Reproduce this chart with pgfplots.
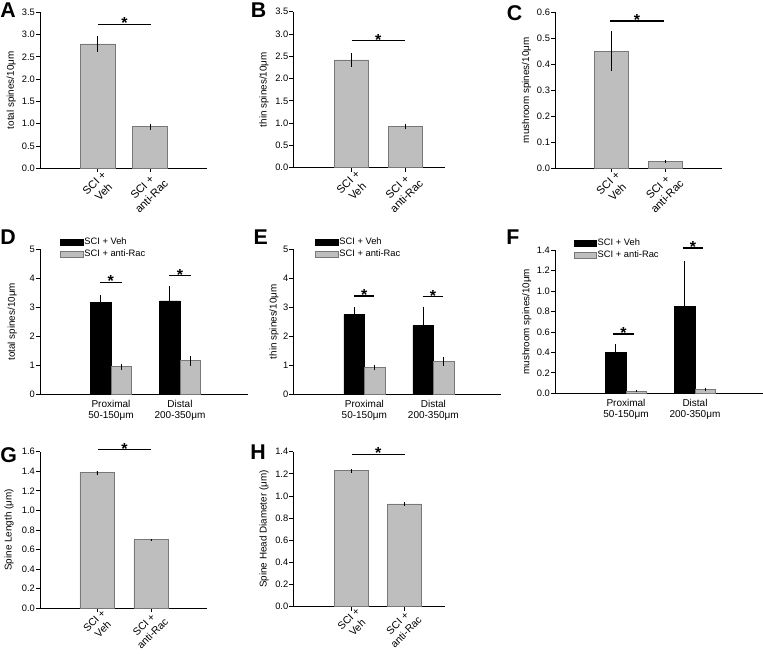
\documentclass[border=0pt]{standalone}
\usepackage{pgfplots}
\pgfplotsset{compat=1.18}
\usepackage{fontspec}
\setmainfont{Liberation Sans}
\definecolor{barg}{RGB}{190,190,190}
\definecolor{edgeg}{RGB}{120,120,120}
\tikzset{
  star/.style={font=\bfseries\fontsize{12}{12}\selectfont, inner sep=0pt, anchor=base, yshift=-3.4pt},
  sig/.style={line width=1pt, black},
  plab/.style={anchor=north west, inner sep=0pt, font=\bfseries\fontsize{16}{16}\selectfont},
}
\pgfplotsset{
  panel/.style={
    scale only axis, anchor=south west, clip=false,
    axis lines=left, axis line style={-, line width=0.6pt, black},
    tick align=outside, major tick length=3pt,
    every tick/.style={black, line width=0.6pt},
    xmin=0, ymin=0,
    /pgf/number format/assume math mode=true,
    tick label style={font=\fontsize{7}{8}\selectfont},
    yticklabel style={inner sep=0.6pt},
    ylabel style={font=\fontsize{7.4}{8.5}\selectfont, anchor=center, inner sep=0pt},
    y tick label style={/pgf/number format/.cd, fixed, fixed zerofill, precision=1},
  },
  twobar/.style={panel,
    xticklabels={{SCI +\\Veh},{SCI +\\anti-Rac}},
    xticklabel style={xshift=3pt, yshift=2pt, rotate=45, anchor=north east, align=center, font=\fontsize{8.3}{9.8}\selectfont, inner sep=0pt},
  },
  twobarlow/.style={panel,
    xticklabels={{SCI +\\Veh},{SCI +\\anti-Rac}},
    xticklabel style={xshift=3pt, yshift=3pt, rotate=45, anchor=north east, align=center, font=\fontsize{7.8}{9.2}\selectfont, inner sep=0pt},
  },
  groupbar/.style={panel, xmax=208, xtick={71,140},
    xticklabels={{Proximal\\50-150μm},{Distal\\200-350μm}},
    xticklabel style={align=center, font=\fontsize{7.5}{8.3}\selectfont, inner sep=1pt},
    x tick style={draw=none},
    legend style={draw=none, fill=none, font=\fontsize{7}{8}\selectfont, anchor=north west, inner sep=0pt, row sep=1.2pt, nodes={inner sep=0.6pt}},
    legend cell align=left,
  },
  legrect/.style={legend image code/.code={\draw[##1] (0pt,-2.25pt) rectangle (17pt,2.25pt);}},
  gbar/.style={ybar, bar shift=0pt, fill=barg, draw=edgeg, line width=0.5pt, legrect,
    error bars/y dir=both, error bars/y explicit, error bars/error mark=none,
    error bars/error bar style={black, line width=0.7pt}},
  kbar/.style={ybar, bar shift=0pt, fill=black, draw=black, line width=0.5pt, legrect,
    error bars/y dir=both, error bars/y explicit, error bars/error mark=none,
    error bars/error bar style={black, line width=0.7pt}},
}
\begin{document}
\begin{tikzpicture}
\path[use as bounding box] (0,0) rectangle (572.25pt,-489.75pt);
% ---------- A
\begin{axis}[twobar, at={(30pt,-126.2pt)}, width=125.25pt, height=117pt,
  xmax=167, ymax=3.5, ytick={0,0.5,1,1.5,2,2.5,3,3.5}, xtick={57.5,110},
  ylabel={total spines/10μm}, ylabel style={at={(axis description cs:-0.171,0.5)}}]
\addplot[gbar, bar width=35] coordinates {(57.5,2.79) +- (0,0.18) (110,0.93) +- (0,0.07)};
\draw[sig] (axis cs:58.3,3.23) -- (axis cs:111,3.23);
\node[star] at (axis cs:84.6,3.23) {*};
\end{axis}
% ---------- B
\begin{axis}[twobar, at={(220pt,-125.8pt)}, width=113.8pt, height=117pt,
  xmax=151.7, ymax=3.5, ytick={0,0.5,1,1.5,2,2.5,3,3.5}, xtick={58,111.7},
  ylabel={thin spines/10μm}, ylabel style={at={(axis description cs:-0.193,0.5)}}]
\addplot[gbar, bar width=34] coordinates {(58,2.42) +- (0,0.15) (111.7,0.92) +- (0,0.06)};
\draw[sig] (axis cs:58.4,2.85) -- (axis cs:111.7,2.85);
\node[star] at (axis cs:85,2.85) {*};
\end{axis}
% ---------- C
\begin{axis}[twobar, at={(416.25pt,-126.2pt)}, width=125pt, height=117pt,
  xmax=166.7, ymax=0.6, ytick={0,0.1,0.2,0.3,0.4,0.5,0.6}, xtick={56.3,110.7},
  ylabel={mushroom spines/10μm}, ylabel style={at={(axis description cs:-0.170,0.5)}}]
\addplot[gbar, bar width=34] coordinates {(56.3,0.451) +- (0,0.077) (110.7,0.027) +- (0,0.006)};
\draw[sig] (axis cs:55,0.567) -- (axis cs:109,0.567);
\node[star] at (axis cs:82,0.567) {*};
\end{axis}
% ---------- D
\begin{axis}[groupbar, at={(30pt,-295.7pt)}, width=156pt, height=108.75pt,
  ymax=5, ytick={0,1,2,3,4,5},
  y tick label style={/pgf/number format/.cd, fixed, precision=0},
  legend style={at={(axis description cs:0.096,1.085)}},
  ylabel={total spines/10μm}, ylabel style={at={(axis description cs:-0.133,0.5)}}]
\addplot[kbar, bar width=20.5] coordinates {(60.75,3.16) +- (0,0.27) (129.75,3.22) +- (0,0.52)};
\addplot[gbar, bar width=20.5] coordinates {(81.25,0.95) +- (0,0.1) (150.25,1.16) +- (0,0.17)};
\legend{SCI + Veh, SCI + anti-Rac}
\draw[sig] (axis cs:60,3.86) -- (axis cs:81.7,3.86);
\node[star] at (axis cs:70.8,3.86) {*};
\draw[sig] (axis cs:129.3,4.09) -- (axis cs:150.7,4.09);
\node[star] at (axis cs:140,4.09) {*};
\end{axis}
% ---------- E
\begin{axis}[groupbar, at={(220pt,-295.7pt)}, width=156pt, height=108.75pt,
  ymax=5, ytick={0,1,2,3,4,5},
  y tick label style={/pgf/number format/.cd, fixed, precision=0},
  legend style={at={(axis description cs:0.104,1.085)}},
  ylabel={thin spines/10μm}, ylabel style={at={(axis description cs:-0.093,0.5)}}]
\addplot[kbar, bar width=20.5] coordinates {(60.75,2.75) +- (0,0.25) (129.75,2.37) +- (0,0.65)};
\addplot[gbar, bar width=20.5] coordinates {(81.25,0.92) +- (0,0.1) (150.25,1.13) +- (0,0.16)};
\legend{SCI + Veh, SCI + anti-Rac}
\draw[sig] (axis cs:61,3.39) -- (axis cs:81,3.39);
\node[star] at (axis cs:71,3.39) {*};
\draw[sig] (axis cs:129.4,3.37) -- (axis cs:150,3.37);
\node[star] at (axis cs:139.7,3.37) {*};
\end{axis}
% ---------- F
\begin{axis}[groupbar, at={(416.25pt,-295pt)}, width=156pt, height=107.5pt,
  ymax=1.4, ytick={0,0.2,0.4,0.6,0.8,1.0,1.2,1.4},
  legend style={at={(axis description cs:0.088,1.087)}},
  ylabel={mushroom spines/10μm}, ylabel style={at={(axis description cs:-0.135,0.5)}}]
\addplot[kbar, bar width=20.5] coordinates {(60.75,0.40) +- (0,0.08) (129.75,0.85) +- (0,0.44)};
\addplot[gbar, bar width=20.5] coordinates {(81.25,0.022) +- (0,0.008) (150.25,0.035) +- (0,0.015)};
\legend{SCI + Veh, SCI + anti-Rac}
\draw[sig] (axis cs:58.3,0.58) -- (axis cs:79,0.58);
\node[star] at (axis cs:68.6,0.58) {*};
\draw[sig] (axis cs:127.7,1.42) -- (axis cs:148.3,1.42);
\node[star] at (axis cs:138,1.42) {*};
\end{axis}
% ---------- G
\begin{axis}[twobarlow, at={(30pt,-456.2pt)}, width=125pt, height=117.5pt,
  xmax=166.7, ymax=1.6, ytick={0,0.2,0.4,0.6,0.8,1.0,1.2,1.4,1.6}, xtick={57,111},
  ylabel={Spine Length (μm)}, ylabel style={at={(axis description cs:-0.186,0.5)}}]
\addplot[gbar, bar width=34] coordinates {(57,1.385) +- (0,0.02) (111,0.70) +- (0,0.012)};
\draw[sig] (axis cs:58.3,1.62) -- (axis cs:110.7,1.62);
\node[star] at (axis cs:84.5,1.62) {*};
\end{axis}
% ---------- H
\begin{axis}[twobarlow, at={(220pt,-455pt)}, width=113.8pt, height=116.25pt,
  xmax=151.7, ymax=1.4, ytick={0,0.2,0.4,0.6,0.8,1.0,1.2,1.4}, xtick={58,111.2},
  ylabel={Spine Head Diameter (μm)}, ylabel style={at={(axis description cs:-0.193,0.5)}}]
\addplot[gbar, bar width=34] coordinates {(58,1.228) +- (0,0.017) (111.2,0.928) +- (0,0.015)};
\draw[sig] (axis cs:58.4,1.377) -- (axis cs:111.7,1.377);
\node[star] at (axis cs:85,1.377) {*};
\end{axis}
% ---------- panel letters
\node[plab] at (0pt,-2.25pt) {A};
\node[plab] at (188pt,-2.25pt) {B};
\node[plab] at (380pt,-3.75pt) {C};
\node[plab] at (0pt,-172.5pt) {D};
\node[plab] at (190pt,-172.5pt) {E};
\node[plab] at (379.5pt,-172.5pt) {F};
\node[plab] at (0pt,-335.25pt) {G};
\node[plab] at (187.5pt,-333.75pt) {H};
\end{tikzpicture}
\end{document}
